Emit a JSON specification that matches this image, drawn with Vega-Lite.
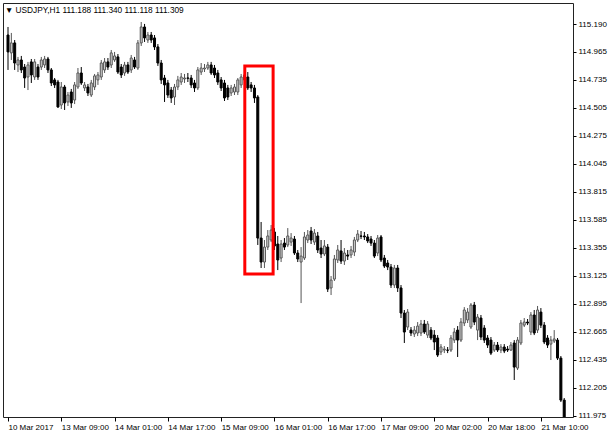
{
  "$schema": "https://vega.github.io/schema/vega-lite/v6.json",
  "width": 570,
  "height": 414,
  "autosize": {"type": "none"},
  "padding": {"left": 3, "top": 3, "right": 40, "bottom": 19},
  "background": "white",
  "config": {
    "view": {"stroke": "#222", "strokeWidth": 1},
    "font": "Liberation Sans",
    "axis": {"labelFont": "Liberation Sans", "labelFontSize": 8, "labelColor": "#000", "tickColor": "#000", "domain": false, "grid": false, "labelOverlap": false, "labelFlush": false}
  },
  "title": {
    "text": "▼ USDJPY,H1  111.188 111.340 111.118 111.309",
    "anchor": "start",
    "frame": "group",
    "orient": "top",
    "offset": 0,
    "baseline": "alphabetic",
    "dx": 2,
    "dy": 18.5,
    "fontSize": 8.3,
    "fontWeight": "normal",
    "font": "Liberation Sans",
    "color": "#000"
  },
  "datasets": {
    "candles": [
      {"i":0,"o":115.103,"h":115.169,"l":114.816,"c":114.964},
      {"i":1,"o":114.956,"h":115.120,"l":114.898,"c":115.038},
      {"i":2,"o":115.038,"h":115.062,"l":114.816,"c":114.873},
      {"i":3,"o":114.857,"h":114.923,"l":114.799,"c":114.898},
      {"i":4,"o":114.898,"h":114.931,"l":114.791,"c":114.816},
      {"i":5,"o":114.840,"h":114.865,"l":114.668,"c":114.750},
      {"i":6,"o":114.758,"h":114.882,"l":114.651,"c":114.857},
      {"i":7,"o":114.882,"h":114.906,"l":114.709,"c":114.775},
      {"i":8,"o":114.758,"h":114.906,"l":114.734,"c":114.882},
      {"i":9,"o":114.840,"h":114.865,"l":114.734,"c":114.758},
      {"i":10,"o":114.840,"h":114.923,"l":114.816,"c":114.898},
      {"i":11,"o":114.857,"h":114.931,"l":114.832,"c":114.906},
      {"i":12,"o":114.906,"h":114.923,"l":114.791,"c":114.816},
      {"i":13,"o":114.816,"h":114.832,"l":114.684,"c":114.709},
      {"i":14,"o":114.734,"h":114.750,"l":114.668,"c":114.693},
      {"i":15,"o":114.717,"h":114.734,"l":114.504,"c":114.512},
      {"i":16,"o":114.528,"h":114.717,"l":114.495,"c":114.676},
      {"i":17,"o":114.676,"h":114.693,"l":114.487,"c":114.545},
      {"i":18,"o":114.553,"h":114.635,"l":114.520,"c":114.610},
      {"i":19,"o":114.635,"h":114.660,"l":114.504,"c":114.545},
      {"i":20,"o":114.569,"h":114.717,"l":114.536,"c":114.693},
      {"i":21,"o":114.676,"h":114.832,"l":114.660,"c":114.791},
      {"i":22,"o":114.791,"h":114.840,"l":114.693,"c":114.709},
      {"i":23,"o":114.668,"h":114.717,"l":114.643,"c":114.693},
      {"i":24,"o":114.676,"h":114.701,"l":114.602,"c":114.627},
      {"i":25,"o":114.610,"h":114.734,"l":114.594,"c":114.709},
      {"i":26,"o":114.676,"h":114.783,"l":114.651,"c":114.767},
      {"i":27,"o":114.734,"h":114.799,"l":114.693,"c":114.775},
      {"i":28,"o":114.758,"h":114.898,"l":114.734,"c":114.873},
      {"i":29,"o":114.816,"h":114.914,"l":114.791,"c":114.882},
      {"i":30,"o":114.882,"h":114.914,"l":114.816,"c":114.840},
      {"i":31,"o":114.857,"h":114.980,"l":114.832,"c":114.956},
      {"i":32,"o":114.898,"h":114.964,"l":114.882,"c":114.931},
      {"i":33,"o":114.923,"h":114.947,"l":114.783,"c":114.799},
      {"i":34,"o":114.840,"h":114.865,"l":114.750,"c":114.775},
      {"i":35,"o":114.791,"h":114.882,"l":114.767,"c":114.857},
      {"i":36,"o":114.857,"h":114.882,"l":114.783,"c":114.799},
      {"i":37,"o":114.816,"h":114.939,"l":114.791,"c":114.914},
      {"i":38,"o":114.898,"h":114.923,"l":114.824,"c":114.840},
      {"i":39,"o":114.832,"h":115.062,"l":114.816,"c":115.038},
      {"i":40,"o":115.038,"h":115.210,"l":115.013,"c":115.169},
      {"i":41,"o":115.169,"h":115.194,"l":115.046,"c":115.079},
      {"i":42,"o":115.062,"h":115.128,"l":115.038,"c":115.103},
      {"i":43,"o":115.103,"h":115.128,"l":115.038,"c":115.062},
      {"i":44,"o":115.079,"h":115.103,"l":114.980,"c":115.005},
      {"i":45,"o":115.005,"h":115.029,"l":114.849,"c":114.873},
      {"i":46,"o":114.873,"h":114.898,"l":114.701,"c":114.734},
      {"i":47,"o":114.750,"h":114.775,"l":114.553,"c":114.693},
      {"i":48,"o":114.709,"h":114.734,"l":114.586,"c":114.610},
      {"i":49,"o":114.651,"h":114.676,"l":114.545,"c":114.586},
      {"i":50,"o":114.594,"h":114.701,"l":114.528,"c":114.676},
      {"i":51,"o":114.676,"h":114.767,"l":114.651,"c":114.734},
      {"i":52,"o":114.717,"h":114.791,"l":114.693,"c":114.758},
      {"i":53,"o":114.742,"h":114.783,"l":114.709,"c":114.750},
      {"i":54,"o":114.750,"h":114.791,"l":114.717,"c":114.748},
      {"i":55,"o":114.750,"h":114.775,"l":114.668,"c":114.693},
      {"i":56,"o":114.709,"h":114.734,"l":114.635,"c":114.668},
      {"i":57,"o":114.668,"h":114.840,"l":114.651,"c":114.816},
      {"i":58,"o":114.799,"h":114.873,"l":114.775,"c":114.832},
      {"i":59,"o":114.824,"h":114.865,"l":114.799,"c":114.832},
      {"i":60,"o":114.832,"h":114.882,"l":114.816,"c":114.857},
      {"i":61,"o":114.857,"h":114.882,"l":114.775,"c":114.791},
      {"i":62,"o":114.832,"h":114.857,"l":114.750,"c":114.775},
      {"i":63,"o":114.791,"h":114.816,"l":114.693,"c":114.717},
      {"i":64,"o":114.734,"h":114.758,"l":114.643,"c":114.668},
      {"i":65,"o":114.709,"h":114.734,"l":114.561,"c":114.586},
      {"i":66,"o":114.668,"h":114.693,"l":114.569,"c":114.594},
      {"i":67,"o":114.627,"h":114.693,"l":114.602,"c":114.668},
      {"i":68,"o":114.635,"h":114.701,"l":114.610,"c":114.676},
      {"i":69,"o":114.635,"h":114.750,"l":114.610,"c":114.734},
      {"i":70,"o":114.693,"h":114.783,"l":114.668,"c":114.758},
      {"i":71,"o":114.734,"h":114.816,"l":114.709,"c":114.775},
      {"i":72,"o":114.758,"h":114.799,"l":114.651,"c":114.668},
      {"i":73,"o":114.693,"h":114.717,"l":114.635,"c":114.668},
      {"i":74,"o":114.668,"h":114.693,"l":114.545,"c":114.586},
      {"i":75,"o":114.594,"h":114.610,"l":113.378,"c":113.435},
      {"i":76,"o":113.435,"h":113.567,"l":113.189,"c":113.238},
      {"i":77,"o":113.238,"h":113.419,"l":113.189,"c":113.361},
      {"i":78,"o":113.361,"h":113.501,"l":113.337,"c":113.452},
      {"i":79,"o":113.419,"h":113.542,"l":113.402,"c":113.501},
      {"i":80,"o":113.485,"h":113.517,"l":113.337,"c":113.370},
      {"i":81,"o":113.386,"h":113.452,"l":113.172,"c":113.255},
      {"i":82,"o":113.271,"h":113.419,"l":113.238,"c":113.386},
      {"i":83,"o":113.394,"h":113.435,"l":113.337,"c":113.361},
      {"i":84,"o":113.378,"h":113.517,"l":113.361,"c":113.452},
      {"i":85,"o":113.402,"h":113.476,"l":113.370,"c":113.435},
      {"i":86,"o":113.427,"h":113.452,"l":113.296,"c":113.312},
      {"i":87,"o":113.312,"h":113.337,"l":113.238,"c":113.263},
      {"i":88,"o":113.238,"h":113.361,"l":112.901,"c":113.287},
      {"i":89,"o":113.271,"h":113.485,"l":113.255,"c":113.444},
      {"i":90,"o":113.419,"h":113.501,"l":113.394,"c":113.460},
      {"i":91,"o":113.493,"h":113.526,"l":113.386,"c":113.419},
      {"i":92,"o":113.402,"h":113.509,"l":113.378,"c":113.476},
      {"i":93,"o":113.452,"h":113.485,"l":113.312,"c":113.337},
      {"i":94,"o":113.353,"h":113.419,"l":113.271,"c":113.304},
      {"i":95,"o":113.304,"h":113.419,"l":113.287,"c":113.370},
      {"i":96,"o":113.361,"h":113.386,"l":112.992,"c":113.016},
      {"i":97,"o":113.025,"h":113.123,"l":112.967,"c":113.090},
      {"i":98,"o":113.098,"h":113.296,"l":113.082,"c":113.263},
      {"i":99,"o":113.255,"h":113.378,"l":113.230,"c":113.337},
      {"i":100,"o":113.329,"h":113.419,"l":113.222,"c":113.246},
      {"i":101,"o":113.246,"h":113.353,"l":113.214,"c":113.312},
      {"i":102,"o":113.296,"h":113.337,"l":113.255,"c":113.287},
      {"i":103,"o":113.296,"h":113.370,"l":113.271,"c":113.337},
      {"i":104,"o":113.320,"h":113.444,"l":113.287,"c":113.419},
      {"i":105,"o":113.419,"h":113.501,"l":113.402,"c":113.468},
      {"i":106,"o":113.452,"h":113.493,"l":113.427,"c":113.450},
      {"i":107,"o":113.452,"h":113.485,"l":113.419,"c":113.444},
      {"i":108,"o":113.444,"h":113.468,"l":113.394,"c":113.411},
      {"i":109,"o":113.427,"h":113.452,"l":113.370,"c":113.394},
      {"i":110,"o":113.394,"h":113.419,"l":113.271,"c":113.287},
      {"i":111,"o":113.312,"h":113.460,"l":113.287,"c":113.435},
      {"i":112,"o":113.444,"h":113.460,"l":113.238,"c":113.255},
      {"i":113,"o":113.271,"h":113.296,"l":113.189,"c":113.205},
      {"i":114,"o":113.230,"h":113.255,"l":113.172,"c":113.197},
      {"i":115,"o":113.197,"h":113.222,"l":113.025,"c":113.049},
      {"i":116,"o":113.049,"h":113.214,"l":113.025,"c":113.189},
      {"i":117,"o":113.189,"h":113.214,"l":112.992,"c":113.025},
      {"i":118,"o":113.025,"h":113.049,"l":112.778,"c":112.819},
      {"i":119,"o":112.819,"h":112.844,"l":112.573,"c":112.663},
      {"i":120,"o":112.704,"h":112.852,"l":112.679,"c":112.827},
      {"i":121,"o":112.679,"h":112.704,"l":112.630,"c":112.655},
      {"i":122,"o":112.647,"h":112.712,"l":112.622,"c":112.679},
      {"i":123,"o":112.655,"h":112.745,"l":112.630,"c":112.712},
      {"i":124,"o":112.655,"h":112.762,"l":112.630,"c":112.729},
      {"i":125,"o":112.729,"h":112.762,"l":112.647,"c":112.663},
      {"i":126,"o":112.638,"h":112.753,"l":112.614,"c":112.729},
      {"i":127,"o":112.679,"h":112.704,"l":112.597,"c":112.614},
      {"i":128,"o":112.638,"h":112.679,"l":112.515,"c":112.581},
      {"i":129,"o":112.614,"h":112.638,"l":112.458,"c":112.474},
      {"i":130,"o":112.499,"h":112.564,"l":112.474,"c":112.540},
      {"i":131,"o":112.515,"h":112.548,"l":112.490,"c":112.523},
      {"i":132,"o":112.515,"h":112.540,"l":112.490,"c":112.513},
      {"i":133,"o":112.515,"h":112.638,"l":112.499,"c":112.614},
      {"i":134,"o":112.597,"h":112.696,"l":112.573,"c":112.663},
      {"i":135,"o":112.679,"h":112.712,"l":112.458,"c":112.597},
      {"i":136,"o":112.597,"h":112.778,"l":112.581,"c":112.745},
      {"i":137,"o":112.737,"h":112.868,"l":112.712,"c":112.844},
      {"i":138,"o":112.762,"h":112.860,"l":112.737,"c":112.827},
      {"i":139,"o":112.704,"h":112.901,"l":112.688,"c":112.885},
      {"i":140,"o":112.885,"h":112.910,"l":112.720,"c":112.745},
      {"i":141,"o":112.679,"h":112.811,"l":112.597,"c":112.786},
      {"i":142,"o":112.778,"h":112.803,"l":112.597,"c":112.622},
      {"i":143,"o":112.696,"h":112.720,"l":112.573,"c":112.597},
      {"i":144,"o":112.614,"h":112.638,"l":112.532,"c":112.556},
      {"i":145,"o":112.597,"h":112.622,"l":112.474,"c":112.490},
      {"i":146,"o":112.515,"h":112.581,"l":112.499,"c":112.556},
      {"i":147,"o":112.556,"h":112.581,"l":112.499,"c":112.515},
      {"i":148,"o":112.515,"h":112.564,"l":112.490,"c":112.540},
      {"i":149,"o":112.540,"h":112.564,"l":112.490,"c":112.507},
      {"i":150,"o":112.523,"h":112.548,"l":112.499,"c":112.515},
      {"i":151,"o":112.515,"h":112.581,"l":112.507,"c":112.556},
      {"i":152,"o":112.573,"h":112.597,"l":112.269,"c":112.375},
      {"i":153,"o":112.367,"h":112.622,"l":112.351,"c":112.597},
      {"i":154,"o":112.573,"h":112.762,"l":112.556,"c":112.737},
      {"i":155,"o":112.720,"h":112.778,"l":112.704,"c":112.745},
      {"i":156,"o":112.745,"h":112.770,"l":112.720,"c":112.737},
      {"i":157,"o":112.663,"h":112.827,"l":112.638,"c":112.803},
      {"i":158,"o":112.803,"h":112.844,"l":112.638,"c":112.655},
      {"i":159,"o":112.679,"h":112.877,"l":112.655,"c":112.844},
      {"i":160,"o":112.827,"h":112.860,"l":112.696,"c":112.720},
      {"i":161,"o":112.720,"h":112.745,"l":112.564,"c":112.581},
      {"i":162,"o":112.614,"h":112.638,"l":112.532,"c":112.556},
      {"i":163,"o":112.564,"h":112.630,"l":112.433,"c":112.597},
      {"i":164,"o":112.589,"h":112.679,"l":112.573,"c":112.606},
      {"i":165,"o":112.597,"h":112.614,"l":112.433,"c":112.449},
      {"i":166,"o":112.449,"h":112.466,"l":112.088,"c":112.104},
      {"i":167,"o":112.104,"h":112.121,"l":111.874,"c":111.899}
    ],
    "box": [
      {"i": 71.1, "i2": 79.6, "h": 114.849, "l": 113.140}
    ]
  },
  "layer": [
    {
      "data": {"name": "candles"},
      "mark": {"type": "rule", "strokeWidth": 1, "clip": true},
      "encoding": {
        "x": {"field": "i", "type": "quantitative", "scale": {"domain": [0, 168.14], "nice": false, "zero": false},
              "axis": {"title": null, "orient": "bottom", "values": [0,16,32,48,64,80,96,112,128,144,160], "tickSize": 4, "labelAlign": "left", "labelPadding": 2, "labelBaseline": "top", "labelFlush": false, "labelOverlap": false,
                       "labelExpr": "['10 Mar 2017','13 Mar 09:00','14 Mar 01:00','14 Mar 17:00','15 Mar 09:00','16 Mar 01:00','16 Mar 17:00','17 Mar 09:00','20 Mar 02:00','20 Mar 18:00','21 Mar 10:00'][round(datum.value/16)]"}},
        "y": {"field": "l", "type": "quantitative", "scale": {"domain": [111.965, 115.366], "nice": false, "zero": false},
              "axis": {"title": null, "orient": "right", "values": [115.19,114.965,114.735,114.505,114.275,114.045,113.815,113.585,113.355,113.125,112.895,112.665,112.435,112.205,111.975], "format": ".3f", "tickSize": 3, "labelPadding": 2, "labelFlush": false, "labelOverlap": false}},
        "y2": {"field": "h"},
        "stroke": {"condition": {"test": "datum.c > datum.o", "value": "#555555"}, "value": "#000000"}
      }
    },
    {
      "data": {"name": "candles"},
      "mark": {"type": "bar", "width": 2, "strokeWidth": 1, "clip": true},
      "encoding": {
        "x": {"field": "i", "type": "quantitative", "scale": {"domain": [0, 168.14], "nice": false, "zero": false}},
        "y": {"field": "o", "type": "quantitative", "scale": {"domain": [111.965, 115.366], "nice": false, "zero": false},
              "axis": {"title": null, "orient": "right", "values": [115.19,114.965,114.735,114.505,114.275,114.045,113.815,113.585,113.355,113.125,112.895,112.665,112.435,112.205,111.975], "format": ".3f", "tickSize": 3, "labelPadding": 2, "labelFlush": false, "labelOverlap": false}},
        "y2": {"field": "c"},
        "fill": {"condition": {"test": "datum.c > datum.o", "value": "#d8d8d8"}, "value": "#000000"},
        "stroke": {"condition": {"test": "datum.c > datum.o", "value": "#555555"}, "value": "#000000"}
      }
    },
    {
      "data": {"name": "box"},
      "mark": {"type": "rect", "fillOpacity": 0, "stroke": "#ff0000", "strokeWidth": 3},
      "encoding": {
        "x": {"field": "i", "type": "quantitative", "scale": {"domain": [0, 168.14], "nice": false, "zero": false}},
        "x2": {"field": "i2"},
        "y": {"field": "h", "type": "quantitative", "scale": {"domain": [111.965, 115.366], "nice": false, "zero": false},
              "axis": {"title": null, "orient": "right", "values": [115.19,114.965,114.735,114.505,114.275,114.045,113.815,113.585,113.355,113.125,112.895,112.665,112.435,112.205,111.975], "format": ".3f", "tickSize": 3, "labelPadding": 2, "labelFlush": false, "labelOverlap": false}},
        "y2": {"field": "l"}
      }
    }
  ]
}
